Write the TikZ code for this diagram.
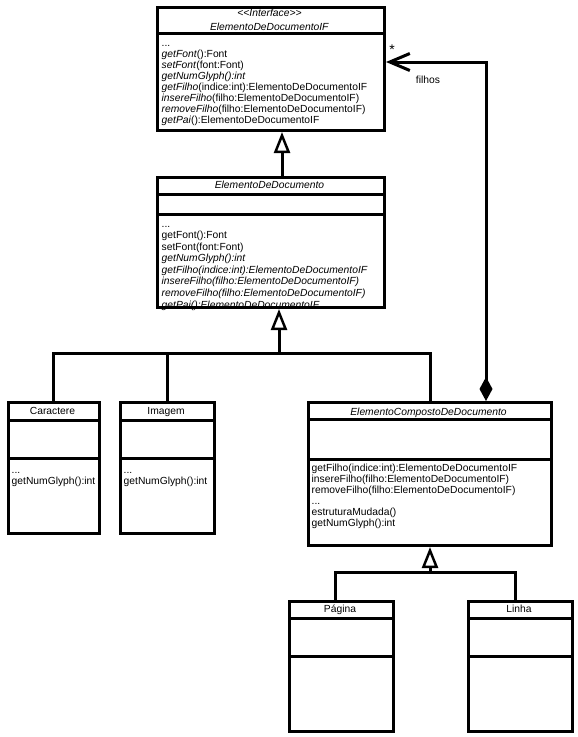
\documentclass[tikz,border=0pt]{standalone}
\usepackage{fontspec}
\setmainfont{Liberation Sans}
\usetikzlibrary{arrows.meta}
\tikzset{
  umlfont/.style={font=\fontsize{10.3}{11}\selectfont},
  clsbox/.style 2 args={draw, line width=3pt, anchor=north west, inner sep=0pt,
    minimum width=#1, minimum height=#2},
  sepline/.style={line width=3pt},
  ttl/.style={umlfont, anchor=base, inner sep=0pt},
  meth/.style={umlfont, anchor=north west, inner sep=0pt, align=left},
  methb/.style={font=\fontsize{10.3}{10.3}\selectfont, anchor=north west, inner sep=0pt, align=left},
  conn/.style={line width=3pt, line join=miter},
  gen/.style={conn, -{Triangle[open, length=21pt, width=16pt, line width=2.5pt]}},
  agg/.style={conn, {Diamond[length=24pt, width=13pt, fill=black]}-{Straight Barb[length=20pt, width=17pt, line width=3pt]}},
  lbl/.style={umlfont, inner sep=0pt}
}
\begin{document}
\begin{tikzpicture}[x=1pt, y=-1pt]
\useasboundingbox[fill=white] (0,0) rectangle (578,737);

% ---- Interface ElementoDeDocumentoIF
\node[clsbox={227pt}{123pt}] (iface) at (156,6) {};
\draw[sepline] (iface.west |- 0,33) -- (iface.east |- 0,33);
\node[ttl] (ifst) at (269.5,16.5) {\textit{<{}<Interface>{}>}};
\node[ttl] (ifname) at (269.5,30) {\textit{ElementoDeDocumentoIF}};
\node[meth] (ifops) at (161.5,38.3) {%
\strut...\\
\strut\textit{getFont}():Font\\
\strut\textit{setFont}(font:Font)\\
\strut\textit{getNumGlyph():int}\\
\strut\textit{getFilho}(indice:int):ElementoDeDocumentoIF\\
\strut\textit{insereFilho}(filho:ElementoDeDocumentoIF)\\
\strut\textit{removeFilho}(filho:ElementoDeDocumentoIF)\\
\strut\textit{getPai}():ElementoDeDocumentoIF};

% ---- ElementoDeDocumento
\node[clsbox={227pt}{130pt}] (doc) at (156,176) {};
\draw[sepline] (doc.west |- 0,194) -- (doc.east |- 0,194);
\draw[sepline] (doc.west |- 0,214) -- (doc.east |- 0,214);
\node[ttl] (docname) at (269.5,188.5) {\textit{ElementoDeDocumento}};
\node[methb] (docops) at (161.5,219.8) {%
\strut...\\
\strut getFont():Font\\
\strut setFont(font:Font)\\
\strut\textit{getNumGlyph():int}\\
\strut\textit{getFilho(indice:int):ElementoDeDocumentoIF}\\
\strut\textit{insereFilho(filho:ElementoDeDocumentoIF)}\\
\strut\textit{removeFilho(filho:ElementoDeDocumentoIF)}\\
\strut\textit{getPai():ElementoDeDocumentoIF}};

% ---- Caractere
\node[clsbox={91pt}{131pt}] (car) at (7,401) {};
\draw[sepline] (car.west |- 0,420) -- (car.east |- 0,420);
\draw[sepline] (car.west |- 0,458) -- (car.east |- 0,458);
\node[ttl] (carname) at (52.5,414) {Caractere};
\node[meth] (carops) at (11.5,465.3) {\strut...\\\strut getNumGlyph():int};

% ---- Imagem
\node[clsbox={94pt}{131pt}] (img) at (119,401) {};
\draw[sepline] (img.west |- 0,420) -- (img.east |- 0,420);
\draw[sepline] (img.west |- 0,458) -- (img.east |- 0,458);
\node[ttl] (imgname) at (166,414) {Imagem};
\node[meth] (imgops) at (123.5,465.3) {\strut...\\\strut getNumGlyph():int};

% ---- ElementoCompostoDeDocumento
\node[clsbox={243pt}{143pt}] (comp) at (307,401) {};
\draw[sepline] (comp.west |- 0,419) -- (comp.east |- 0,419);
\draw[sepline] (comp.west |- 0,459) -- (comp.east |- 0,459);
\node[ttl] (compname) at (428.5,415) {\textit{ElementoCompostoDeDocumento}};
\node[meth] (compops) at (311.5,463.3) {%
\strut getFilho(indice:int):ElementoDeDocumentoIF\\
\strut insereFilho(filho:ElementoDeDocumentoIF)\\
\strut removeFilho(filho:ElementoDeDocumentoIF)\\
\strut...\\
\strut estruturaMudada()\\
\strut getNumGlyph():int};

% ---- Pagina
\node[clsbox={104pt}{130pt}] (pag) at (288,600) {};
\draw[sepline] (pag.west |- 0,618) -- (pag.east |- 0,618);
\draw[sepline] (pag.west |- 0,656) -- (pag.east |- 0,656);
\node[ttl] (pagname) at (340,612) {Página};

% ---- Linha
\node[clsbox={104pt}{130pt}] (lin) at (467,600) {};
\draw[sepline] (lin.west |- 0,618) -- (lin.east |- 0,618);
\draw[sepline] (lin.west |- 0,656) -- (lin.east |- 0,656);
\node[ttl] (linname) at (519,612) {Linha};

% ---- generalizations
\draw[gen] (doc.north -| 282,0) -- (iface.south -| 282,0);

\coordinate (j1) at (279,353);
\coordinate (h1) at (430,353);
\draw[gen] (j1) -- (doc.south -| j1);
\draw[conn] (car.north -| 53,0) |- (h1) -- (comp.north -| h1);
\draw[conn] (img.north -| 167,0) -- (j1 -| 167,0);

\coordinate (j2) at (430,572);
\coordinate (h2) at (515,572);
\draw[gen] (j2) -- (comp.south -| j2);
\draw[conn] (pag.north -| 335,0) |- (h2) -- (lin.north -| h2);

% ---- aggregation filhos
\coordinate (a1) at (486,62);
\draw[agg] (comp.north -| a1) -- (a1) -- (iface.east |- a1);
\node[lbl, font=\fontsize{14}{14}\selectfont] (star) at (392,50) {*};
\node[lbl] (filhos) at (428,80) {filhos};
\end{tikzpicture}
\end{document}
